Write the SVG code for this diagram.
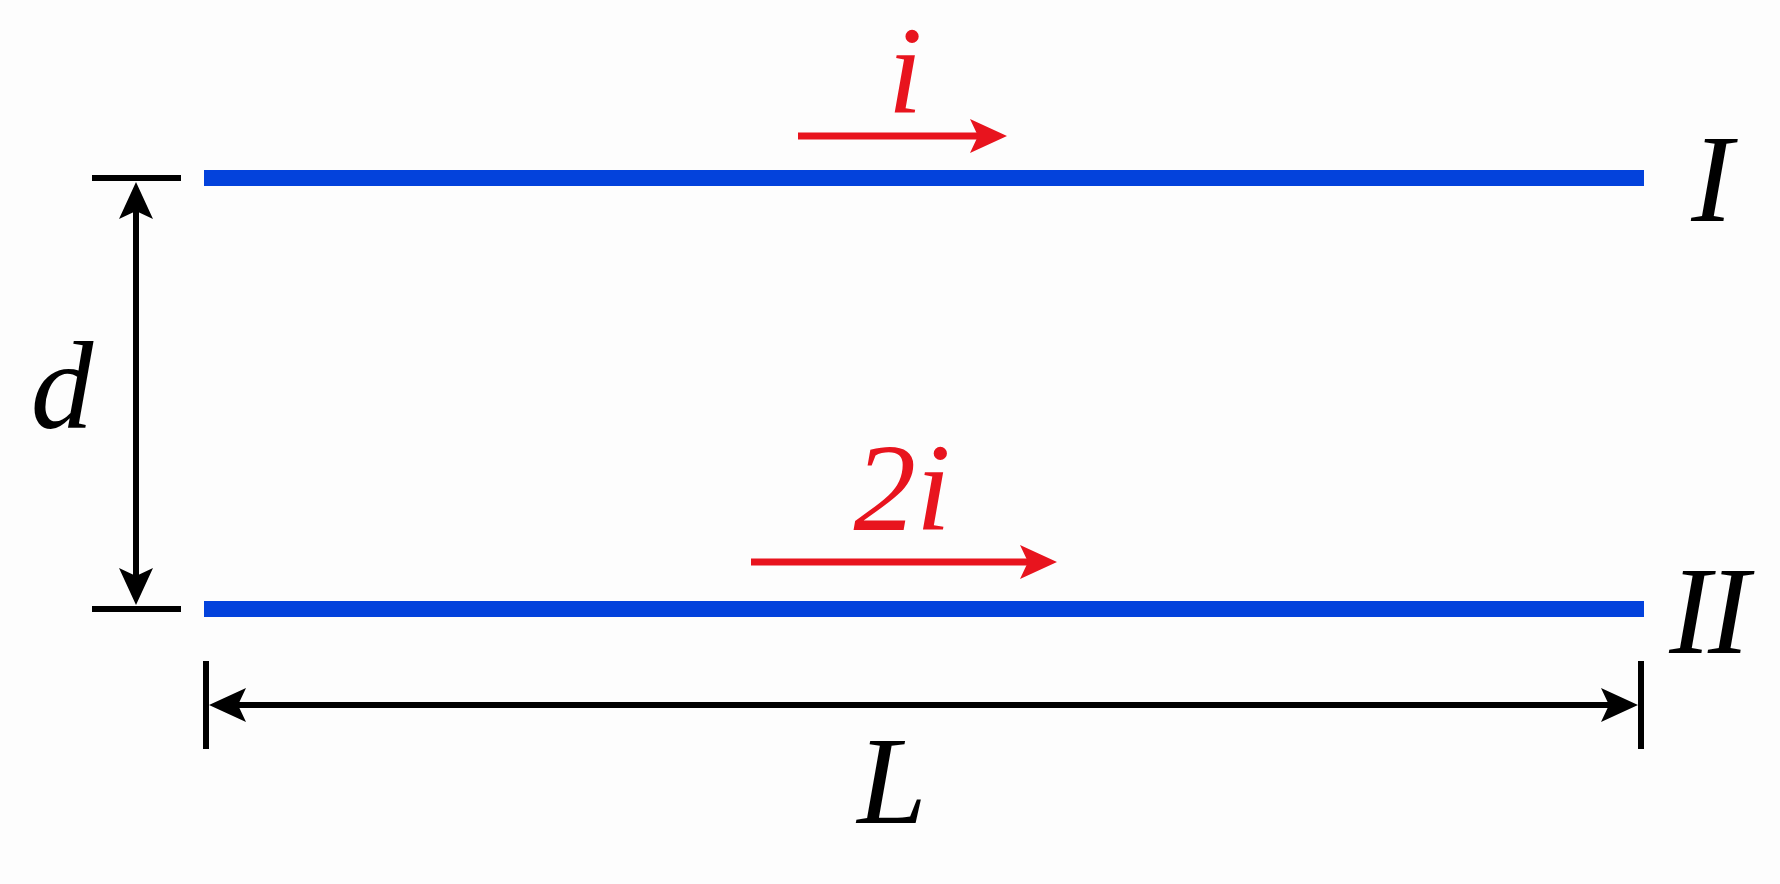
<svg xmlns="http://www.w3.org/2000/svg" width="1780" height="884" viewBox="0 0 1780 884">
  <style>
    .wire { stroke: #0342dc; stroke-width: 16; fill: none; }
    .dim { stroke: #000; stroke-width: 6; fill: none; }
    .cur { stroke: #e8141e; stroke-width: 7; fill: none; }
    .lbl { font-family: "Liberation Serif", "Times New Roman", serif; font-style: italic; font-size: 125px; text-anchor: middle; }
    .blk { fill: #000; }
    .red { fill: #e8141e; }
  </style>
  <defs>
    <marker id="ahB" markerUnits="userSpaceOnUse" markerWidth="50" markerHeight="40" viewBox="-10 -20 50 40" refX="0" refY="0" orient="auto-start-reverse">
      <path d="M29,0 L-8,-17 L0,0 L-8,17 Z" fill="#000"/>
    </marker>
    <marker id="ahR" markerUnits="userSpaceOnUse" markerWidth="50" markerHeight="40" viewBox="-10 -20 50 40" refX="0" refY="0" orient="auto">
      <path d="M29,0 L-8,-17 L0,0 L-8,17 Z" fill="#e8141e"/>
    </marker>
  </defs>
  <rect width="1780" height="884" fill="#fdfdfd"/>

  <g id="wire-I">
    <line class="wire" x1="204" y1="178" x2="1644" y2="178"/>
    <text class="lbl blk" x="1712" y="221">I</text>
  </g>
  <g id="wire-II">
    <line class="wire" x1="204" y1="609" x2="1644" y2="609"/>
    <text class="lbl blk" x="1708" y="653" letter-spacing="-3">II</text>
  </g>
  <g id="current-i">
    <text class="lbl red" x="905" y="113">i</text>
  </g>
  <g id="current-2i">
    <text class="lbl red" x="902" y="530">2i</text>
  </g>
  <g id="dim-d">
    <line class="dim" x1="92" y1="178" x2="181" y2="178"/>
    <line class="dim" x1="92" y1="609" x2="181" y2="609"/>
    <text class="lbl blk" x="62" y="428">d</text>
  </g>
  <g id="dim-L">
    <line class="dim" x1="206" y1="661" x2="206" y2="749"/>
    <line class="dim" x1="1641" y1="661" x2="1641" y2="749"/>
    <text class="lbl blk" x="892" y="823">L</text>
  </g>

  <g id="connectors">
    <line class="dim" x1="136" y1="211" x2="136" y2="576" marker-start="url(#ahB)" marker-end="url(#ahB)"/>
    <line class="dim" x1="238" y1="705" x2="1609" y2="705" marker-start="url(#ahB)" marker-end="url(#ahB)"/>
    <line class="cur" x1="798" y1="136" x2="978" y2="136" marker-end="url(#ahR)"/>
    <line class="cur" x1="751" y1="562" x2="1028" y2="562" marker-end="url(#ahR)"/>
  </g>
</svg>
